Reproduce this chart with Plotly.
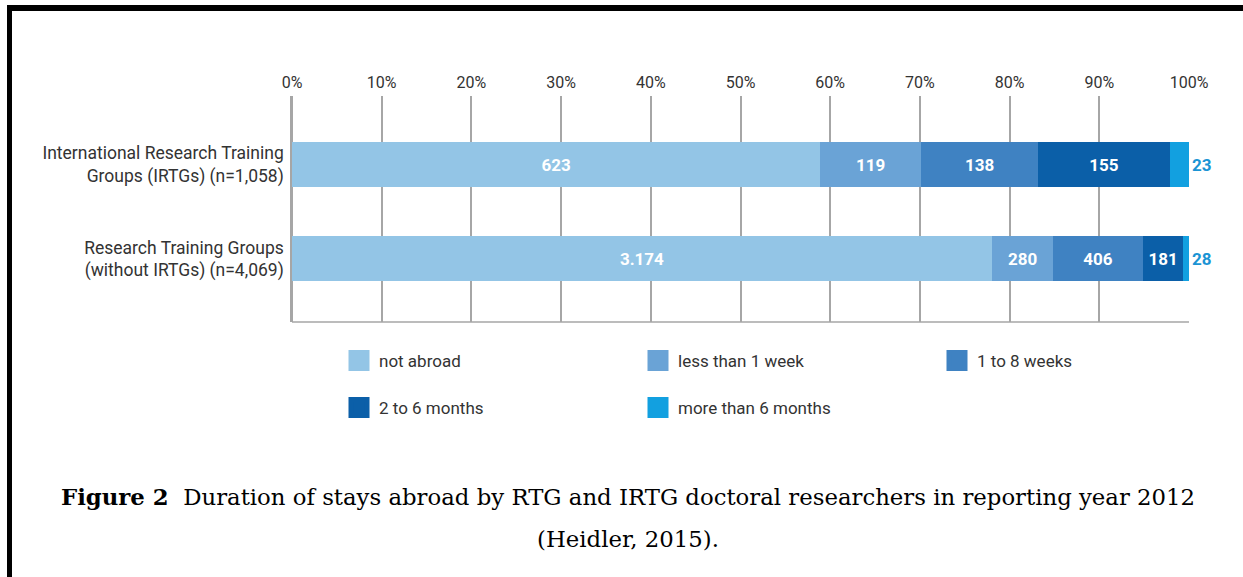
import plotly.graph_objects as go

# ---------------- data ----------------
categories = [
    "International Research Training<br>Groups (IRTGs) (n=1,058)",
    "Research Training Groups<br>(without IRTGs) (n=4,069)",
]
series_names = ["not abroad", "less than 1 week", "1 to 8 weeks", "2 to 6 months", "more than 6 months"]
series_colors = ["#93c5e6", "#6aa3d6", "#3f82c2", "#0b5fa8", "#12a0e0"]
irtg_counts = [623, 119, 138, 155, 23]
rtg_counts = [3174, 280, 406, 181, 28]
irtg_labels = ["623", "119", "138", "155", "23"]
rtg_labels = ["3.174", "280", "406", "181", "28"]
x_tickvals = [0, 10, 20, 30, 40, 50, 60, 70, 80, 90, 100]
x_ticktext = ["0%", "10%", "20%", "30%", "40%", "50%", "60%", "70%", "80%", "90%", "100%"]
legend_rows = ["legend", "legend", "legend", "legend2", "legend2"]

caption_line1 = "<b>Figure 2</b>\u00a0 Duration of stays abroad by RTG and IRTG doctoral researchers in reporting year 2012"
caption_line2 = "(Heidler, 2015)."

# ---------------- layout geometry (pixels) ----------------
W, H = 1243, 577
L, R, T, B = 292, 1189, 96, 322


def px_x(p):
    return (p - L) / (R - L)


def px_y(p):
    return (B - p) / (B - T)


sans = "Roboto, Liberation Sans, sans-serif"
serif = "DejaVu Serif, serif"

fig = go.Figure()
for i, name in enumerate(series_names):
    last = i == len(series_names) - 1
    fig.add_trace(go.Bar(
        name=name,
        y=categories,
        x=[irtg_counts[i], rtg_counts[i]],
        orientation="h",
        marker=dict(color=series_colors[i], line=dict(width=0)),
        text=[irtg_labels[i], rtg_labels[i]],
        textposition="outside" if last else "inside",
        insidetextanchor="middle",
        textangle=0,
        constraintext="none",
        cliponaxis=False,
        insidetextfont=dict(family=sans, size=17, color="white", weight="bold"),
        outsidetextfont=dict(family=sans, size=17, color="#1a94d4", weight="bold"),
        width=0.476,
        showlegend=False,
        hoverinfo="skip",
    ))

# legend entries (larger square swatches, same names/colours as the bars)
for i, name in enumerate(series_names):
    fig.add_trace(go.Scatter(
        name=name,
        x=[None], y=[None],
        mode="markers",
        marker=dict(symbol="square", size=16, color=series_colors[i],
                    line=dict(width=5, color=series_colors[i])),
        legend=legend_rows[i],
        hoverinfo="skip",
    ))

legend_common = dict(
    orientation="h",
    traceorder="normal",
    xref="container", yref="container",
    xanchor="left", yanchor="top",
    entrywidth=254, entrywidthmode="pixels",
    font=dict(family=sans, size=17, color="#333333"),
    bgcolor="rgba(0,0,0,0)",
    itemclick=False, itemdoubleclick=False,
)

fig.update_layout(
    width=W, height=H,
    margin=dict(l=L, r=W - R, t=T, b=H - B, pad=0),
    paper_bgcolor="white",
    plot_bgcolor="white",
    barmode="stack",
    barnorm="percent",
    bargap=0,
    showlegend=True,
    xaxis=dict(
        side="top",
        range=[0, 100],
        tickmode="array",
        tickvals=x_tickvals,
        ticktext=x_ticktext,
        showgrid=True,
        gridcolor="#a6a6a6",
        gridwidth=1.5,
        zeroline=True,
        zerolinecolor="#a6a6a6",
        zerolinewidth=1.5,
        showline=False,
        ticks="",
        ticklabelstandoff=4,
        tickfont=dict(family=sans, size=16, color="#333333"),
        fixedrange=True,
        automargin=False,
    ),
    yaxis=dict(
        categoryorder="array",
        categoryarray=categories,
        range=[1.667, -0.725],
        showgrid=False,
        zeroline=False,
        showline=True,
        linecolor="#a6a6a6",
        linewidth=1.5,
        ticks="",
        ticklabelstandoff=3,
        tickfont=dict(family=sans, size=17.5, color="#333333"),
        fixedrange=True,
        automargin=False,
    ),
    legend=dict(legend_common, x=339 / W, y=1 - 343 / H),
    legend2=dict(legend_common, x=339 / W, y=1 - 390 / H),
    shapes=[
        # bottom border of plot area
        dict(type="line", xref="paper", yref="paper", x0=0, x1=1, y0=0, y1=0,
             line=dict(color="#a6a6a6", width=1.5)),
        # page frame (top and left black rules)
        dict(type="line", xref="paper", yref="paper",
             x0=px_x(7), x1=px_x(W + 20), y0=px_y(8), y1=px_y(8),
             line=dict(color="black", width=6)),
        dict(type="line", xref="paper", yref="paper",
             x0=px_x(9.5), x1=px_x(9.5), y0=px_y(5), y1=px_y(H + 20),
             line=dict(color="black", width=5)),
    ],
    annotations=[
        dict(text=caption_line1, xref="paper", yref="paper",
             x=px_x(628), y=px_y(497), xanchor="center", yanchor="middle",
             showarrow=False, font=dict(family=serif, size=22.8, color="black")),
        dict(text=caption_line2, xref="paper", yref="paper",
             x=px_x(628), y=px_y(539), xanchor="center", yanchor="middle",
             showarrow=False, font=dict(family=serif, size=22.8, color="black")),
    ],
)

fig.write_html(
    "out.html",
    config={"displayModeBar": False},
    post_script="document.body.style.margin='0';",
)
